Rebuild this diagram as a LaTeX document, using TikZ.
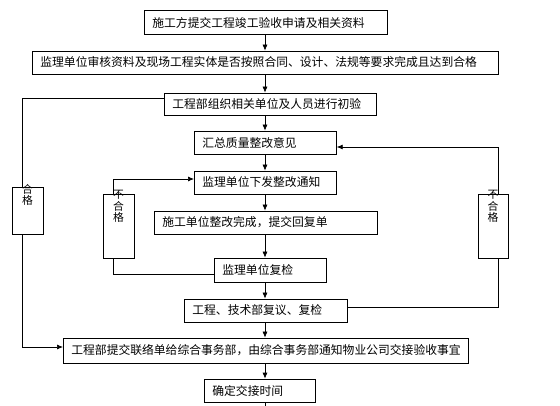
\documentclass[tikz,border=0pt]{standalone}
\usepackage{fontspec}
\newfontfamily\cjk{Noto Sans CJK SC}
\usepackage{tikz}
\usetikzlibrary{arrows.meta}
\usetikzlibrary{positioning}

\begin{document}
\begin{tikzpicture}[x=1pt, y=-1pt, line width=0.7pt,
	step box/.style={draw, fill=white, anchor=west, text width=#1, align=left,
		inner xsep=8pt, inner ysep=0pt, minimum height=23pt,
		font=\cjk\fontsize{11.8}{13}\selectfont},
	flag/.style={draw, fill=white, inner sep=0pt},
	flag text/.style={anchor=north, align=center, inner sep=0pt,
		font=\cjk\fontsize{10.8}{11.8}\selectfont}]
	\useasboundingbox (0,0) rectangle (560,406);
	\coordinate (axis) at (265,0);
	\begin{scope}
		\node[step box=227, minimum height=24pt] (1) at (144,22.5) {施工方提交工程竣工验收申请及相关资料};
		\node[step box=450] (2) at (32,62.5) {监理单位审核资料及现场工程实体是否按照合同、设计、法规等要求完成且达到合格};
		\node[step box=196, minimum height=22pt] (3) at (164,104) {工程部组织相关单位及人员进行初验};
		\node[step box=126] (4) at (194,142.5) {汇总质量整改意见};
		\node[step box=126] (5) at (194,182.5) {监理单位下发整改通知};
		\node[step box=207] (6) at (154,222.5) {施工单位整改完成，提交回复单};
		\node[step box=96, minimum height=24pt] (7) at (214,270) {监理单位复检};
		\node[step box=147] (8) at (184,310.5) {工程、技术部复议、复检};
		\node[step box=389, minimum height=25pt] (9) at (63,350.5) {工程部提交联络单给综合事务部，由综合事务部通知物业公司交接验收事宜};
		\node[step box=95] (10) at (204,390.5) {确定交接时间};
		\coordinate (end) at (265,406);
	\end{scope}

	\begin{scope}[>={Latex[length=6pt,width=5pt]}]
		\path (1.south -| axis) edge[->] (2.north -| axis);
		\path (2.south -| axis) edge[->] (3.north -| axis);
		\path (3.south -| axis) edge[->] (4.north -| axis);
		\path (4.south -| axis) edge[->] (5.north -| axis);
		\path (5.south -| axis) edge[->] (6.north -| axis);
		\path (6.south -| axis) edge[->] (7.north -| axis);
		\path (7.south -| axis) edge[->] (8.north -| axis);
		\path (8.south -| axis) edge[->] (9.north -| axis);
		\path (9.south -| axis) edge[->] (10.north -| axis);
		\draw (10.south -| axis) -- (end);

		% loops
		\coordinate (a1) at (22,98);
		\coordinate (a2) at (22,347);
		\draw[->] (3.west |- a1) -- (a1) -- (a2) -- (9.west |- a2);
		\coordinate (b1) at (113,274);
		\coordinate (b2) at (113,179);
		\draw[->] (7.west |- b1) -- (b1) -- (b2) -- (5.west |- b2);
		\coordinate (c1) at (498,307);
		\coordinate (c2) at (498,147);
		\draw[->] (8.east |- c1) -- (c1) -- (c2) -- (4.east |- c2);
	\end{scope}

	\begin{scope}
		\node[flag, minimum width=31pt, minimum height=47pt] (pass) at (27.5,210.5) {};
		\node[flag text] (pass text) at ([yshift=3pt]pass.north) {合\\格};
		\node[flag, minimum width=31pt, minimum height=64pt] (fail1) at (118.5,226) {};
		\node[flag text] (fail1 text) at ([yshift=4pt]fail1.north) {不\\合\\格};
		\node[flag, minimum width=30pt, minimum height=64pt] (fail2) at (493,226) {};
		\node[flag text] (fail2 text) at ([yshift=4pt]fail2.north) {不\\合\\格};
	\end{scope}
\end{tikzpicture}
\end{document}
